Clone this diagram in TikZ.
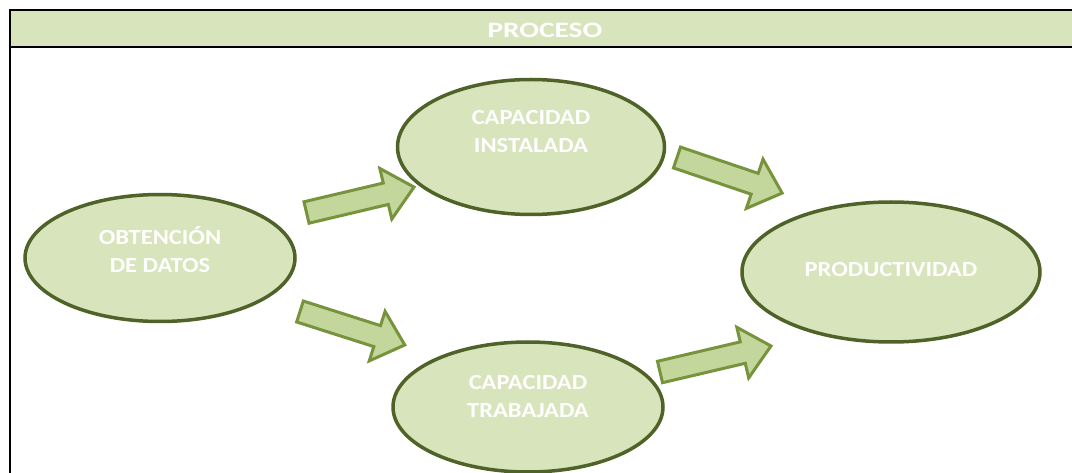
\documentclass[tikz,border=0pt]{standalone}
\usepackage{fontspec}
\setmainfont{Carlito}[FakeStretch=1.14]
\newfontfamily\hdrfont{Carlito}[FakeStretch=1.33]
\usetikzlibrary{shapes.geometric}

\definecolor{ovalfill}{HTML}{D8E4BC}
\definecolor{ovalline}{HTML}{4F6228}
\definecolor{arrfill}{HTML}{C3D69B}
\definecolor{arrline}{HTML}{77933C}

\tikzset{
  frame/.style={line width=2.5pt},
  oval/.style={ellipse, draw=ovalline, fill=ovalfill, line width=3.5pt},
  lbl/.style={text=white, font=\bfseries\fontsize{21.5}{28}\selectfont, align=center},
  blockarr/.style={draw=arrline, fill=arrfill, line width=3pt, line join=miter}
}

% block arrow: tail centre, angle, length
\newcommand{\blockarrow}[3]{%
  \begin{scope}[shift={#1}, rotate=#2]
    \draw[blockarr] (0,-11) -- (#3-29,-11) -- (#3-29,-26) -- (#3,0)
      -- (#3-29,26) -- (#3-29,11) -- (0,11) -- cycle;
  \end{scope}}

\begin{document}
\begin{tikzpicture}[x=1pt, y=-1pt]
  \useasboundingbox (0,0) rectangle (1072,473);

  % header
  \fill[ovalfill] (10,10) rectangle (1072,47);
  \draw[frame] (1072,10) -- (10,10) -- (10,473);
  \draw[frame] (10,47) -- (1072,47);
  \node[text=white, font=\hdrfont\bfseries\fontsize{22}{25}\selectfont] (hdr) at (545,30) {PROCESO};

  % ovals
  \node[oval, minimum width=270, minimum height=127] (datos) at (160,258) {};
  \node[oval, minimum width=267, minimum height=135] (inst) at (531,147) {};
  \node[oval, minimum width=270, minimum height=130] (trab) at (528,407) {};
  \node[oval, minimum width=298, minimum height=140] (prod) at (891,272) {};

  \node[lbl] (datosT) at ([yshift=8pt]datos.center) {OBTENCIÓN\\DE DATOS};
  \node[lbl] (instT) at ([yshift=15pt]inst.center) {CAPACIDAD\\INSTALADA};
  \node[lbl] (trabT) at ([yshift=10pt]trab.center) {CAPACIDAD\\TRABAJADA};
  \node[lbl] (prodT) at ([yshift=2pt]prod.center) {PRODUCTIVIDAD};

  % arrows
  \blockarrow{(306.5,212.5)}{13.3}{110.5}
  \blockarrow{(300,311.5)}{-17.7}{110}
  \blockarrow{(677,157.5)}{-18.7}{111}
  \blockarrow{(660,372)}{13.2}{114}
\end{tikzpicture}
\end{document}
